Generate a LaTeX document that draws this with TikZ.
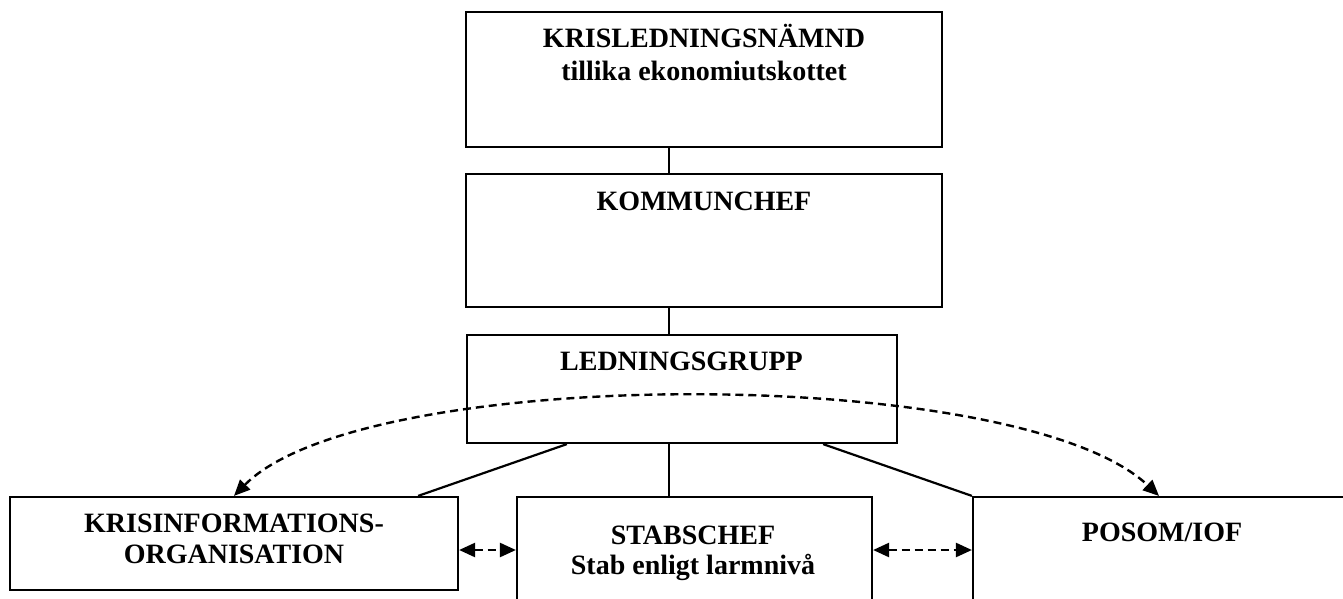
\documentclass[tikz,border=0pt]{standalone}
\usepackage{fontspec}
\setmainfont{Liberation Serif}
\usetikzlibrary{arrows.meta,positioning}

\tikzset{
    box/.style={draw, line width=2.2pt, inner sep=0pt},
    lbl/.style={anchor=base, inner sep=0pt, font=\bfseries\fontsize{28}{33}\selectfont},
    link/.style={line width=2.2pt},
    dashlink/.style={line width=2.4pt, dash pattern=on 8pt off 5pt},
}

\begin{document}
\begin{tikzpicture}[x=1pt,y=-1pt,>={Triangle[length=16pt,width=14pt]}]
                \useasboundingbox (0,0) rectangle (1343,599);
                \clip (0,0) rectangle (1343,599);

                % boxes
                \node[box, minimum width=476pt, minimum height=135pt] (krn) at (704,79.5) {};
                \node[box, minimum width=476pt, minimum height=133pt] (kc) at (704,240.5) {};
                \node[box, minimum width=430pt, minimum height=108pt] (lg) at (682,389) {};
                \node[box, minimum width=448pt, minimum height=93pt] (kio) at (234,543.5) {};
                \node[box, minimum width=355pt, minimum height=106pt] (stab) at (694.5,550) {};
                \node[box, minimum width=378pt, minimum height=113pt] (posom) at (1162,553.5) {};
                \coordinate (ax) at (669,0);

                % texts
                \node[lbl] (krnA) at (704,48) {KRISLEDNINGSNÄMND};
                \node[lbl] (krnB) at (704,81) {tillika ekonomiutskottet};
                \node[lbl] (kcA) at (704,210) {KOMMUNCHEF};
                \node[lbl] (lgA) at (681.5,370) {LEDNINGSGRUPP};
                \node[lbl] (kioA) at (234,532) {KRISINFORMATIONS-};
                \node[lbl] (kioB) at (234,563) {ORGANISATION};
                \node[lbl] (stabA) at (693,544) {STABSCHEF};
                \node[lbl] (stabB) at (693,574) {Stab enligt larmnivå};
                \node[lbl] (posomA) at (1162,541) {POSOM/IOF};

                % connectors
                \draw[link] (krn.south -| ax) -- (kc.north -| ax);
                \draw[link] (kc.south -| ax) -- (lg.north -| ax);
                \draw[link] (lg.south -| ax) -- (stab.north -| ax);
                \draw[link] ([xshift=101pt]lg.south west) -- ([xshift=-41pt]kio.north east);
                \draw[link] ([xshift=-75pt]lg.south east) -- (posom.north west);

                \draw[dashlink,<->] (kio.east |- stab.west) -- (stab.west);
                \draw[dashlink,<->] (stab.east) -- (posom.west |- stab.east);
                \draw[dashlink,<->] (kio.north) .. controls +(130,-132) and +(-140,-132) .. ([xshift=-3pt]posom.north);
\end{tikzpicture}
\end{document}
